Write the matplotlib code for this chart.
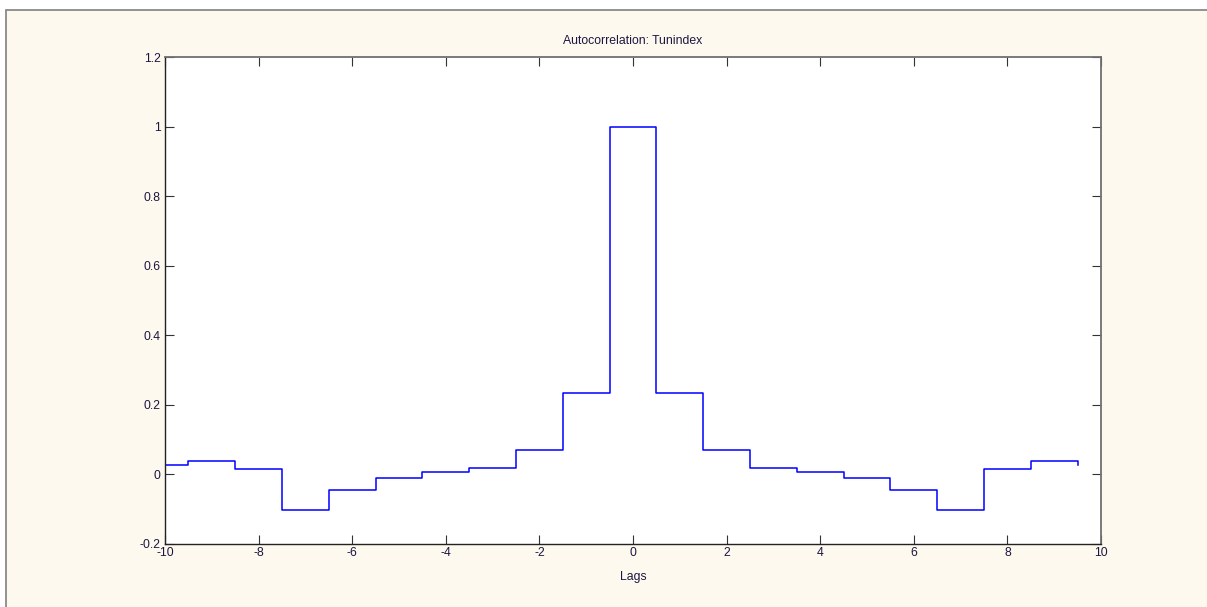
import numpy as np
import matplotlib.pyplot as plt
from matplotlib.patches import Rectangle

# autocorrelation values for lags -10..10
lags = np.arange(-10, 11)
acf_half = [0.026, 0.039, 0.015, -0.102, -0.046, -0.010, 0.006, 0.019, 0.071, 0.235]
acf = acf_half + [1.0] + acf_half[::-1]

xticks = [-10, -8, -6, -4, -2, 0, 2, 4, 6, 8, 10]
yticks = [-0.2, 0, 0.2, 0.4, 0.6, 0.8, 1, 1.2]
ytick_labels = ["-0.2", "0", "0.2", "0.4", "0.6", "0.8", "1", "1.2"]

TEXT = "#1c1640"
BG = "#fef9ef"
FS = 8.8

plt.rcParams["font.family"] = ["Liberation Sans", "DejaVu Sans"]
plt.rcParams["axes.unicode_minus"] = False

fig = plt.figure(figsize=(12.07, 6.07), dpi=100, facecolor="white")
# window background (the screenshot is cropped a bit at top/left)
fig.add_artist(Rectangle((6 / 1207, -0.01), 1.0, 0.01 + 597 / 607,
                         transform=fig.transFigure, facecolor=BG,
                         edgecolor="#808080", linewidth=1.2, zorder=-5))

ax = fig.add_axes([165 / 1207, 63 / 607, 936 / 1207, 487 / 607])
ax.set_facecolor("white")

# step edges sit half-way between lags, clipped at the left limit
edges = np.clip(lags - 0.5, -10, None)
ax.step(edges, acf, where="post", color="#0000ff", linewidth=1.1)

ax.set_xlim(-10, 10)
ax.set_ylim(-0.2, 1.2)
ax.set_xticks(xticks)
ax.set_yticks(yticks)
ax.set_yticklabels(ytick_labels)
ax.tick_params(direction="in", length=6.5, width=0.8, color="#333333",
               top=True, right=True, labelsize=FS, labelcolor=TEXT, pad=3)
ax.tick_params(axis="x", pad=2.5)

for side in ["left", "bottom"]:
    ax.spines[side].set_color("#222222")
    ax.spines[side].set_linewidth(1.0)
for side in ["top", "right"]:
    ax.spines[side].set_color("#707070")
    ax.spines[side].set_linewidth(1.3)

ax.set_title("Autocorrelation: Tunindex", fontsize=FS, color=TEXT, pad=9)
ax.set_xlabel("Lags", fontsize=FS, color=TEXT, labelpad=8)

fig.savefig("out.png", dpi=100, facecolor=fig.get_facecolor())
